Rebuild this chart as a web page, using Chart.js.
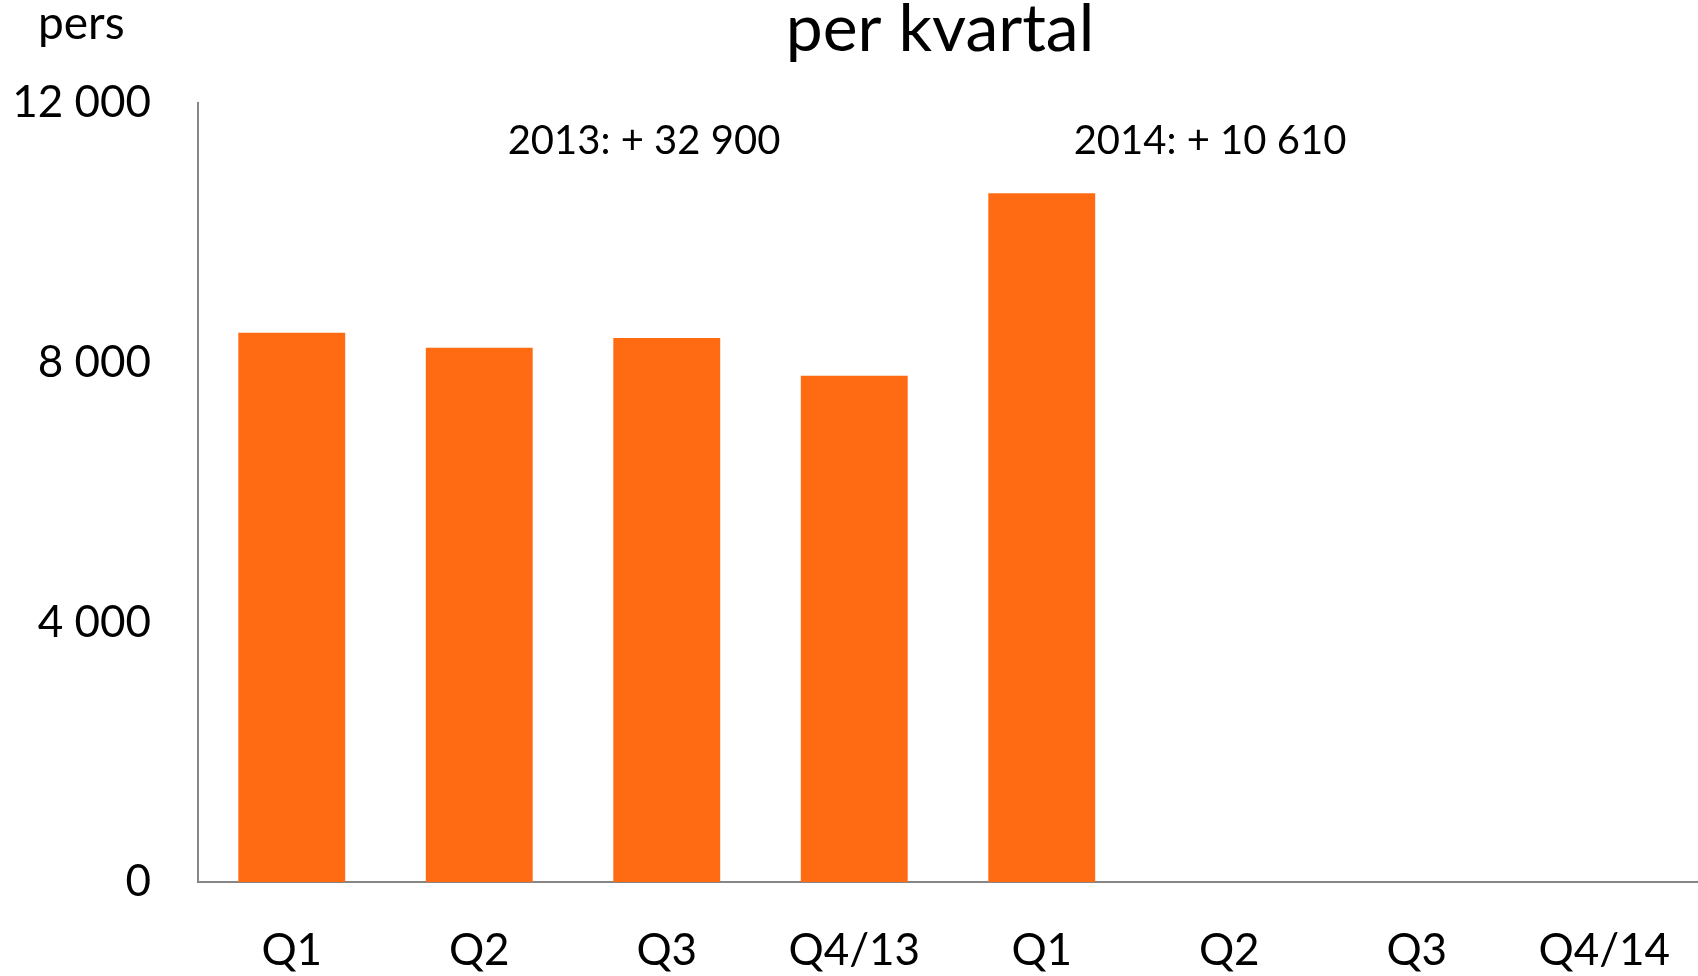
<!DOCTYPE html>
<html lang="no">
<head>
<meta charset="UTF-8" />
<title>per kvartal</title>
<script src="https://cdn.jsdelivr.net/npm/chart.js"></script>
<style>
  html, body { margin: 0; padding: 0; background: #fff; }
  #wrap { width: 1698px; height: 976px; position: relative; }
</style>
</head>
<body>
<div id="wrap"><canvas id="chart"></canvas></div>
<script>
// data
const quarters = ['Q1', 'Q2', 'Q3', 'Q4/13', 'Q1', 'Q2', 'Q3', 'Q4/14'];
const persons = [8460, 8230, 8380, 7800, 10610, null, null, null];
const yTicks = [0, 4000, 8000, 12000];
const yearNotes = ['2013: + 32 900', '2014: + 10 610'];

const FONT = 'Lato, "Open Sans", sans-serif';
const AXIS = '#868686';

function fmt(v){
  return String(v).replace(/\B(?=(\d{3})+(?!\d))/g, ' ');
}

// title, unit label and year totals
const textPlugin = {
  id: 'texts',
  afterDraw(chart){
    const ctx = chart.ctx;
    const area = chart.chartArea;
    ctx.save();
    ctx.fillStyle = '#000';
    ctx.textBaseline = 'middle';

    ctx.font = '66px ' + FONT;
    ctx.textAlign = 'center';
    ctx.fillText('per kvartal', 940, 30);

    ctx.font = '46px ' + FONT;
    ctx.textAlign = 'left';
    ctx.fillText('pers', 38, 24);

    ctx.font = '40px ' + FONT;
    ctx.textAlign = 'center';
    ctx.fillText(yearNotes[0], 644, area.top + 38);
    ctx.fillText(yearNotes[1], 1210, area.top + 38);
    ctx.restore();
  }
};

new Chart(document.getElementById('chart'), {
  type: 'bar',
  data: {
    labels: quarters,
    datasets: [{
      data: persons,
      backgroundColor: '#ff6b12',
      categoryPercentage: 1,
      barPercentage: 0.57
    }]
  },
  options: {
    responsive: true,
    maintainAspectRatio: false,
    animation: false,
    layout: { padding: { top: 103, right: 0, left: 0, bottom: 0 } },
    plugins: {
      legend: { display: false },
      tooltip: { enabled: false }
    },
    scales: {
      x: {
        grid: { display: false, drawTicks: false },
        border: { display: true, color: AXIS, width: 2 },
        ticks: { color: '#000', font: { family: FONT, size: 44 }, padding: 42, maxRotation: 0, autoSkip: false },
        afterFit(scale){
          scale.height = 94;
          scale.paddingLeft = 0;
          scale.paddingRight = 0;
        }
      },
      y: {
        min: 0,
        max: 12000,
        grid: { display: false, drawTicks: false },
        border: { display: true, color: AXIS, width: 2 },
        afterBuildTicks(scale){ scale.ticks = yTicks.map(v => ({ value: v })); },
        ticks: {
          color: '#000',
          font: { family: FONT, size: 44 },
          padding: 47,
          callback: v => fmt(v)
        },
        afterFit(scale){ scale.width = 198; }
      }
    }
  },
  plugins: [textPlugin]
});
</script>
</body>
</html>
